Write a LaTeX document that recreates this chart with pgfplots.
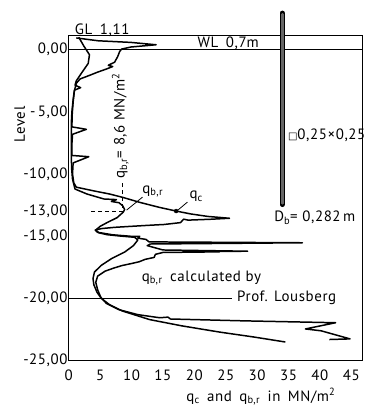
\documentclass[border=0pt]{standalone}
\usepackage{fontspec}
\setmainfont{PT Sans}[LetterSpace=4]
\newfontfamily\symfont{DejaVu Sans}
\usepackage{pgfplots}
\pgfplotsset{compat=1.18}

% cone resistance q_c (level in m, value in MN/m^2)
\pgfplotstableread{
x y
1.2 0.95
4.7 0.72
9.9 0.59
13.9 0.40
9.9 0.22
8.4 0.05
8.1 -0.15
7.8 -0.55
7.3 -1.0
6.3 -1.25
7.0 -1.35
6.0 -1.55
4.6 -1.8
3.1 -2.1
1.8 -2.35
1.2 -2.7
0.9 -3.3
0.7 -4.2
0.55 -5.2
0.5 -6.2
2.8 -6.4
0.6 -6.8
0.5 -7.6
0.5 -8.5
3.2 -8.6
0.7 -9.1
0.6 -10.0
0.8 -10.7
1.2 -11.05
3.9 -11.34
6.5 -11.6
8.6 -11.87
11.3 -12.27
14.4 -12.67
17.1 -12.97
19.4 -13.2
22.1 -13.4
25.6 -13.55
22.6 -13.63
19.0 -13.7
18.3 -13.62
17.8 -13.9
15.2 -14.05
12.6 -14.12
9.9 -14.2
7.3 -14.28
5.2 -14.38
4.2 -14.5
4.6 -14.68
7.0 -14.88
9.9 -15.0
11.3 -15.0
11.0 -15.15
12.3 -15.25
12.8 -15.45
37.2 -15.52
13.0 -15.62
12.5 -15.75
15.0 -16.1
28.5 -16.2
21.0 -16.22
24.0 -16.25
15.0 -16.3
13.8 -16.45
13.6 -16.7
12.2 -16.85
11.2 -17.05
9.9 -17.2
8.5 -17.35
7.2 -17.55
5.8 -17.8
4.6 -18.2
4.3 -18.7
4.6 -19.3
5.1 -19.9
6.0 -20.4
8.0 -20.9
11.0 -21.3
14.5 -21.55
15.8 -21.5
16.2 -21.65
28.0 -21.8
42.5 -21.95
37.7 -22.45
40.2 -22.6
44.8 -23.25
41.5 -23.3
}\qc

% end bearing q_b,r
\pgfplotstableread{
x y
1.6 1.0
2.4 0.3
3.3 -0.4
3.1 -1.1
2.0 -1.9
1.2 -2.5
1.0 -2.85
1.9 -3.05
0.9 -3.25
0.7 -4.0
0.5 -5.0
0.4 -6.0
0.4 -8.0
0.45 -9.5
0.6 -10.4
1.0 -11.2
2.9 -11.6
5.6 -12.0
7.6 -12.05
6.8 -12.2
8.0 -12.3
8.6 -12.55
8.9 -12.85
8.7 -13.05
7.7 -13.5
6.1 -13.9
5.0 -14.2
4.3 -14.5
4.8 -14.72
6.1 -14.87
8.2 -14.98
10.5 -15.08
11.0 -15.3
10.3 -15.75
8.9 -16.27
6.8 -16.8
5.2 -17.33
4.1 -17.87
3.86 -18.4
4.0 -18.9
4.5 -19.5
5.2 -20.0
6.5 -20.5
8.5 -21.0
12.9 -21.7
18.0 -22.2
24.0 -22.7
29.5 -23.1
34.5 -23.5
}\qbr

\begin{document}
\fontsize{15}{18}\selectfont
\begin{tikzpicture}
\begin{axis}[
  scale only axis,
  width=295pt, height=326pt,
  xmin=0, xmax=46.8,
  ymin=-25, ymax=1.11,
  clip=false,
  axis line style={line width=0.9pt},
  major tick length=0pt,
  xtick={0,5,10,15,20,25,30,35,40,45},
  xticklabels={0,5,10,15,20,25,30,35,40,45},
  ytick={-25,-20,-15,-13,-10,-5,0},
  yticklabels={{-25,00},{-20,00},{-15,00},{-13,00},{-10,00},{-\,5,00},{0,00}},
  xticklabel style={yshift=-4pt},
  yticklabel style={inner xsep=1pt},
]
% reference levels
\addplot[line width=0.8pt] coordinates {(0,0) (46.8,0)};
\addplot[line width=0.8pt] coordinates {(0,-20) (26,-20)};
\addplot[line width=0.9pt, dash pattern=on 4pt off 3pt] coordinates {(3.6,-13) (8.6,-13) (8.6,-10.5)};

% pile
\addplot[line width=5pt, black, line cap=round] coordinates {(34,2.95) (34,-12.45)};
\addplot[line width=2.6pt, black!60, line cap=round] coordinates {(34,2.85) (34,-12.35)};

% measured and calculated resistances
\addplot[line width=1.5pt, line join=round] table {\qc};
\addplot[line width=1.5pt, line join=round] table {\qbr};
\addplot[only marks, mark=*, mark size=2pt] coordinates {(17.1,-12.97)};

% annotations
\draw[line width=0.8pt] (axis cs:11.75,-11.85) -- (axis cs:9.2,-12.9);
\draw[line width=0.8pt] (axis cs:18.9,-12.25) -- (axis cs:17.3,-12.93);
\node[anchor=base west, inner sep=0pt] at (axis cs:11.7,-11.55) {q\textsubscript{b,r}};
\node[anchor=base west, inner sep=0pt] at (axis cs:19.2,-12.0) {q\textsubscript{c}};
\node[anchor=base west, inner sep=0pt, rotate=90] at (axis cs:8.9,-10.4) {q\textsubscript{b,r}= 8,6 MN/m\textsuperscript{2}};
\node[anchor=base west, inner sep=0pt] at (axis cs:0.95,1.19) {GL\enspace 1,11};
\node[anchor=base west, inner sep=0pt] at (axis cs:20.5,0.22) {WL\enspace 0,7m};
\node[anchor=base west, inner sep=0pt] at (axis cs:34.9,-7.2) {{\symfont\fontsize{10}{10}\selectfont □}0,25×0,25};
\node[anchor=base west, inner sep=0pt] at (axis cs:32.7,-13.85) {D\textsubscript{b}= 0,282\,m};
\node[anchor=base west, inner sep=0pt] at (axis cs:11.6,-18.6) {q\textsubscript{b,r}\enspace calculated by};
\node[anchor=base west, inner sep=0pt] at (axis cs:26.8,-20.26) {Prof. Lousberg};
\node[rotate=90] at (axis cs:-7.8,-6.0) {Level};
\node[anchor=base] at (axis cs:30.6,-28.25) {q\textsubscript{c}\enspace and\enspace q\textsubscript{b,r}\enspace in\enspace MN/m\textsuperscript{2}};

% picture extent
\path (axis cs:-10.95,4.0) rectangle (axis cs:47.14,-28.82);
\end{axis}
\end{tikzpicture}
\end{document}
